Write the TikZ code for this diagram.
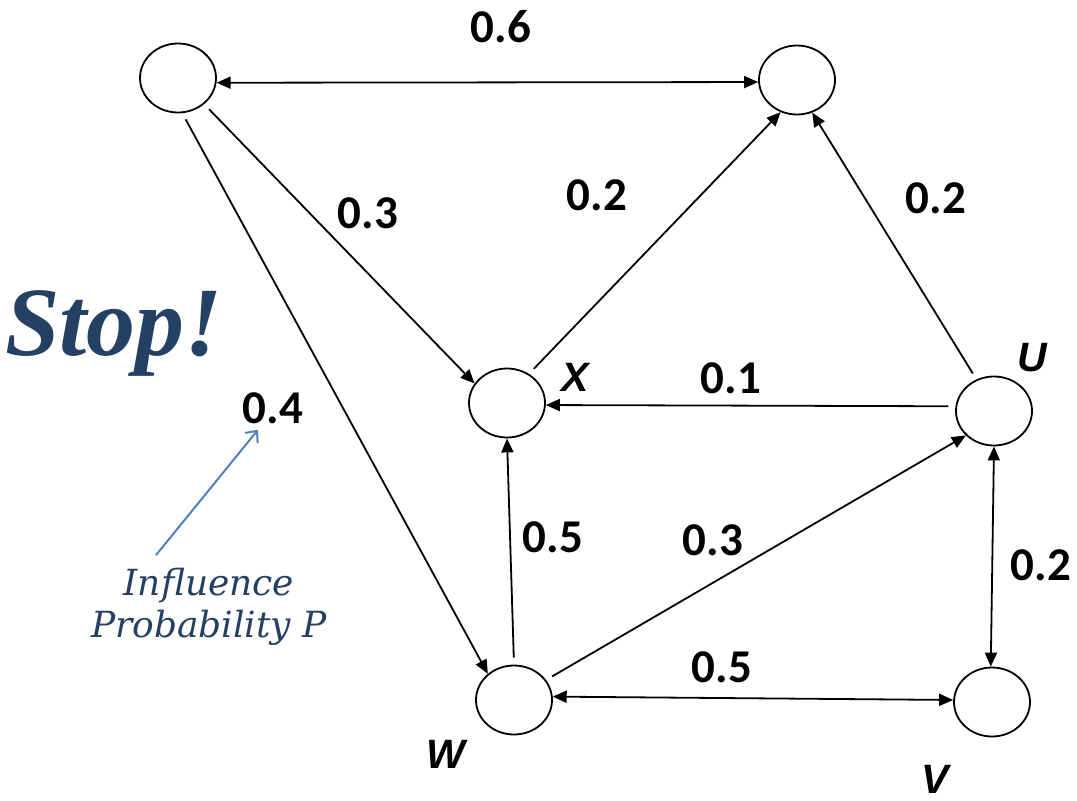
\documentclass[tikz,border=0pt]{standalone}
\usepackage{fontspec}
\newfontfamily\numfont{Carlito}
\newfontfamily\tagfont{Liberation Sans}
\newfontfamily\notefont{Liberation Serif}
\newfontfamily\wordfont{DejaVu Serif}
\usetikzlibrary{arrows.meta, shapes.geometric}

\definecolor{notecol}{RGB}{36,64,98}
\definecolor{pointcol}{RGB}{79,129,189}

\begin{document}
\begin{tikzpicture}[x=1pt, y=-1pt,
  vertex/.style={draw, ellipse, line width=1.8pt, minimum width=76pt,
    minimum height=69pt, inner sep=0pt},
  edge/.style={-{Triangle[length=14pt,width=12pt]}, line width=1.8pt,
    shorten <=7pt},
  both/.style={{Triangle[length=14pt,width=12pt]}-{Triangle[length=14pt,width=12pt]},
    line width=1.8pt},
  prob/.style={inner sep=0pt, font=\numfont\bfseries\fontsize{47}{56}\selectfont},
  tag/.style={inner sep=0pt, font=\tagfont\bfseries\itshape\fontsize{41}{48}\selectfont},
  note/.style={inner sep=0pt, text=notecol, align=center},
  pointer/.style={-{Straight Barb[length=9pt,width=16pt]}, line width=2pt, pointcol},
]
  \useasboundingbox (0,0) rectangle (1077,801);

  \node[vertex] (a) at (178,78)  {};
  \node[vertex] (b) at (797,80)  {};
  \node[vertex] (x) at (507,403) {};
  \node[vertex] (u) at (994,411) {};
  \node[vertex] (w) at (514,700) {};
  \node[vertex] (v) at (992,702) {};

  \foreach \s/\t in {a.-45/x.149, a.-83/w.135, x.53/b.-117, u.119/b.-65,
                     u.173/x.-3, w.90/x.-90, w.32/u.221}
    \draw[edge] (\s) -- (\t);
  \foreach \s/\t in {a.-7/b.183, w.5/v.177, u.-90/v.92}
    \draw[both] (\s) -- (\t);

  % edge probabilities
  \node[prob] (pab) at (501,27)   {0.6};
  \node[prob] (pax) at (368,213)  {0.3};
  \node[prob] (pxb) at (597,195)  {0.2};
  \node[prob] (pub) at (936,198)  {0.2};
  \node[prob] (paw) at (273,408)  {0.4};
  \node[prob] (pux) at (731,378)  {0.1};
  \node[prob] (pwx) at (553,537)  {0.5};
  \node[prob] (pwu) at (713,540)  {0.3};
  \node[prob] (puv) at (1041,565) {0.2};
  \node[prob] (pwv) at (722,667)  {0.5};

  \node[tag] (tx) at (575,377)  {X};
  \node[tag] (tu) at (1032,358) {U};
  \node[tag] (tw) at (446,754)  {W};
  \node[tag] (tv) at (935,779)  {V};

  \node[note, anchor=base, font=\notefont\bfseries\itshape\fontsize{98}{110}\selectfont]
    (stop) at (114,355) {Stop!};
  \node[note, font=\wordfont\itshape\fontsize{36}{42}\selectfont]
    (infl) at (209,607) {Influence\\Probability P};
  \draw[pointer] ([xshift=-53pt,yshift=13pt]infl.north)
    -- ([xshift=-15pt,yshift=-6pt]paw.south);
\end{tikzpicture}
\end{document}
